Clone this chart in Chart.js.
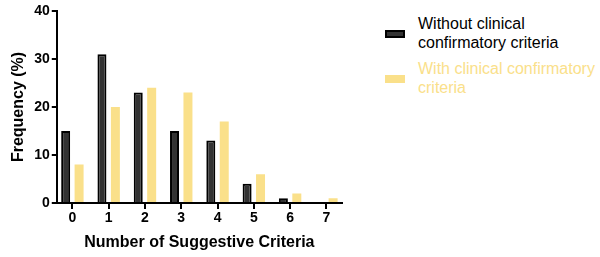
<!DOCTYPE html>
<html>
<head>
<meta charset="utf-8">
<script src="https://cdn.jsdelivr.net/npm/chart.js@4"></script>
<style>
  body { margin: 0; background: #fff; font-family: "Liberation Sans", Arial, sans-serif; }
  #wrap { position: relative; width: 600px; height: 257px; }
  #box { position: absolute; left: 0; top: 0; width: 352px; height: 257px; }
  .leg { position: absolute; left: 385px; font-size: 16px; line-height: 19px; }
  .sw { position: absolute; left: 0; width: 20px; height: 8px; box-sizing: border-box; }
  .tx { position: absolute; left: 33px; white-space: nowrap; }
</style>
</head>
<body>
<div id="wrap">
  <div id="box"><canvas id="myChart"></canvas></div>
  <div class="leg" style="top:14px">
    <div class="sw" style="top:16px;background:#333;border:2px solid #000"></div>
    <div class="tx" style="top:0;color:#000">Without clinical<br>confirmatory criteria</div>
  </div>
  <div class="leg" style="top:59px">
    <div class="sw" style="top:16px;background:#fae08a"></div>
    <div class="tx" style="top:0;color:#fae08a">With clinical confirmatory<br>criteria</div>
  </div>
</div>
<script>
// Les categories et les valeurs
const categories = ["0", "1", "2", "3", "4", "5", "6", "7"]
const withoutCriteria = [15, 31, 23, 15, 13, 4, 1, 0]
const withCriteria = [8, 20, 24, 23, 17, 6, 2, 1]
const yTicks = [0, 10, 20, 30, 40]

const graph = document.getElementById("myChart")
// eslint-disable-next-line no-undef
new Chart(graph, {
    type: "bar",
    data: {
        labels: categories,
        datasets: [{
            label: "Without clinical confirmatory criteria",
            data: withoutCriteria,
            backgroundColor: "#333333",
            borderColor: "#000000",
            borderWidth: 2,
            borderSkipped: "bottom"
        }, {
            label: "With clinical confirmatory criteria",
            data: withCriteria,
            backgroundColor: "#fae08a",
            borderWidth: 0
        }]
    },
    options: {
        responsive: true,
        maintainAspectRatio: false,
        animation: false,
        layout: { padding: { top: 11, right: 10, bottom: 1, left: 5 } },
        datasets: { bar: { categoryPercentage: 0.74, barPercentage: 0.67 } },
        scales: {
            x: {
                type: "linear",
                offset: false,
                min: -0.43,
                max: 7.43,
                // Les graduations sur les categories 0 a 7
                afterBuildTicks: axis => { axis.ticks = categories.map(c => ({ value: Number(c) })) },
                grid: { display: true, offset: false, drawOnChartArea: false, drawTicks: true, tickLength: 6, color: "#000", lineWidth: 2 },
                border: { color: "#000", width: 2 },
                ticks: { color: "#000", font: { size: 14, weight: "bold", family: "Liberation Sans" }, padding: 1 },
                title: { display: true, text: "Number of Suggestive Criteria", color: "#000", font: { size: 16, weight: "bold", family: "Liberation Sans" }, padding: { top: 5 } }
            },
            y: {
                min: 0,
                max: 40,
                afterBuildTicks: axis => { axis.ticks = yTicks.map(v => ({ value: v })) },
                grid: { display: true, drawOnChartArea: false, drawTicks: true, tickLength: 5, color: "#000", lineWidth: 2 },
                border: { color: "#000", width: 2 },
                ticks: { color: "#000", font: { size: 14, weight: "bold", family: "Liberation Sans" }, padding: 2 },
                title: { display: true, text: "Frequency (%)", color: "#000", font: { size: 16, weight: "bold", family: "Liberation Sans" }, padding: { bottom: 4 } }
            }
        },
        plugins: {
            legend: { display: false },
            tooltip: { enabled: false }
        }
    }
})
</script>
</body>
</html>
